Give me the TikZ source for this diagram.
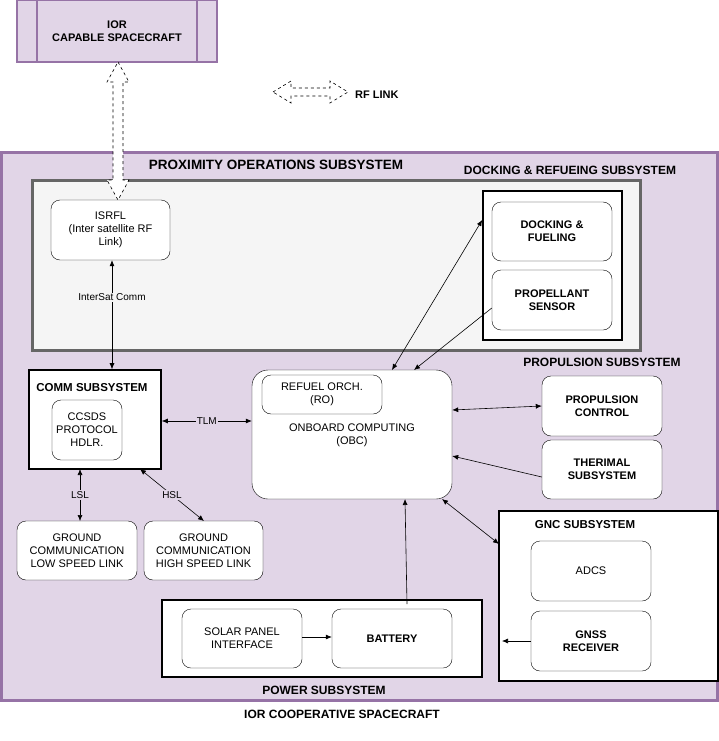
\documentclass[tikz,border=0pt]{standalone}
\usepackage{fontspec}
\setmainfont{Liberation Sans}
\usetikzlibrary{arrows.meta}
\definecolor{lp}{HTML}{E1D5E7}
\definecolor{dp}{HTML}{9673A6}
\tikzset{
 rb/.style={draw=black,fill=white,rounded corners=9pt,align=center,font=\fontsize{11}{13}\selectfont,inner sep=0pt},
 bb/.style={draw=black,line width=1.6pt,fill=white,inner sep=0pt},
 tb/.style={font=\bfseries\fontsize{12}{14}\selectfont,inner sep=0pt},
 ar/.style={-{Latex[length=6pt,width=5pt]},line width=0.6pt},
 dar/.style={{Latex[length=6pt,width=5pt]}-{Latex[length=6pt,width=5pt]},line width=0.6pt},
 lb/.style={fill=lp,font=\fontsize{10}{12}\selectfont,inner sep=1pt},
}
\begin{document}
\begin{tikzpicture}[x=1pt,y=-1pt]
\useasboundingbox (0,0) rectangle (719,741);
% IOR capable
\node[draw=dp,fill=lp,line width=1.5pt,minimum width=200pt,minimum height=62pt,inner sep=0pt,align=center,font=\bfseries\fontsize{11}{13}\selectfont] (ior) at (117,31) {IOR\\CAPABLE SPACECRAFT};
\draw[dp,line width=1.5pt] (37,0)--(37,62) (197,0)--(197,62);
% outer
\node[draw=dp,fill=lp,line width=3pt,minimum width=716pt,minimum height=548pt,inner sep=0pt] (outer) at (359,426) {};
\node[tb,font=\bfseries\fontsize{13.5}{15}\selectfont] (pos) at (276,165) {PROXIMITY OPERATIONS SUBSYSTEM};
\node[tb] (drs) at (570,170) {DOCKING \& REFUEING SUBSYSTEM};
\node[draw=black!60,fill=black!4,line width=3pt,minimum width=608pt,minimum height=170pt,inner sep=0pt] (gray) at (336.5,265.5) {};
\node[bb,minimum width=139pt,minimum height=149pt] (dock) at (552.5,265.5) {};
\node[rb,minimum width=120pt,minimum height=59pt,font=\bfseries\fontsize{11}{13}\selectfont] (dfu) at (552,231.5) {DOCKING \&\\FUELING};
\node[rb,minimum width=120pt,minimum height=60pt,font=\bfseries\fontsize{11}{13}\selectfont] (prop) at (552,300) {PROPELLANT\\SENSOR};
\node[rb,minimum width=119pt,minimum height=60pt] (isr) at (110.5,230) {ISRFL\\(Inter satellite RF\\Link)};
% dashed block arrows
\draw[dashed,fill=white,line width=0.6pt] (118,62)--(129,82)--(123,82)--(123,180)--(129,180)--(118,200)--(107,180)--(113,180)--(113,82)--(107,82)--cycle;
\draw[dashed,fill=white,line width=0.6pt] (273,92)--(291,81)--(291,88)--(330,88)--(330,81)--(348,92)--(330,103)--(330,96)--(291,96)--(291,103)--cycle;
\node[tb,anchor=west,font=\bfseries\fontsize{11}{13}\selectfont] (rf) at (355,95) {RF LINK};
% comm
\node[bb,minimum width=132pt,minimum height=99pt] (comm) at (95,419.5) {};
\node[tb,font=\bfseries\fontsize{11.5}{13}\selectfont] (commt) at (92,388) {COMM SUBSYSTEM};
\node[rb,minimum width=70pt,minimum height=60pt] (ccsds) at (87,430) {CCSDS\\PROTOCOL\\HDLR.};
\draw[dar] (isr.south -| 112,0) -- (comm.north -| 112,0) node[lb,fill=black!4,pos=0.34] (isc) {InterSat Comm};
% OBC
\node[rb,minimum width=200pt,minimum height=129pt,rounded corners=16pt] (obc) at (352,434.5) {};
\node[rb,minimum width=120pt,minimum height=39pt] (ro) at (322,394.5) {REFUEL ORCH.\\(RO)};
\node[align=center,font=\fontsize{11}{13}\selectfont,inner sep=0pt] (obct) at (352,435) {ONBOARD COMPUTING\\(OBC)};
\draw[dar] (comm.east |- 0,421) -- (obc.west |- 0,421) node[lb,midway] (tlm) {TLM};
% propulsion
\node[tb] (pst) at (602,362) {PROPULSION SUBSYSTEM};
\node[rb,minimum width=120pt,minimum height=60pt,font=\bfseries\fontsize{11}{13}\selectfont] (pc) at (602,406) {PROPULSION\\CONTROL};
\node[rb,minimum width=120pt,minimum height=59pt,font=\bfseries\fontsize{11}{13}\selectfont] (th) at (602,469.5) {THERIMAL\\SUBSYSTEM};
\draw[dar] (obc.east |- 0,410) -- (pc.west |- 0,406);
\draw[ar] (th.west |- 0,477) -- (obc.east |- 0,456);
\draw[dar] (392,370) -- (dock.west |- 0,220);
\draw[ar] (prop.west |- 0,308) -- (414,370);
% ground
\node[rb,minimum width=120pt,minimum height=59pt] (gl) at (77,550.5) {GROUND\\COMMUNICATION\\LOW SPEED LINK};
\node[rb,minimum width=119pt,minimum height=59pt] (gh) at (203.5,550.5) {GROUND\\COMMUNICATION\\HIGH SPEED LINK};
\draw[dar] (80,469) -- (80,521) node[lb,midway] (lsl) {LSL};
\draw[dar] (140,469) -- (204,521) node[lb,midway] (hsl) {HSL};
% GNC
\node[bb,minimum width=219pt,minimum height=170pt] (gnc) at (608.5,596) {};
\node[tb,font=\bfseries\fontsize{11.5}{13}\selectfont] (gnct) at (585,525) {GNC SUBSYSTEM};
\node[rb,minimum width=120pt,minimum height=60pt] (adcs) at (591,571) {ADCS};
\node[rb,minimum width=120pt,minimum height=60pt,font=\bfseries\fontsize{11}{13}\selectfont] (gnss) at (591,641) {GNSS\\RECEIVER};
\coordinate (gin) at (502,641);
\draw[ar] (gnss.west) -- (gin);
\draw[dar] (442,499) -- (499,544);
% power
\node[bb,minimum width=320pt,minimum height=77pt] (pow) at (322,638.5) {};
\node[tb] (powt) at (324,690) {POWER SUBSYSTEM};
\node[rb,minimum width=120pt,minimum height=59pt] (sp) at (242,638.5) {SOLAR PANEL\\INTERFACE};
\node[rb,minimum width=120pt,minimum height=59pt,font=\bfseries\fontsize{11}{13}\selectfont] (bat) at (392,638.5) {BATTERY};
\draw[ar] (sp.east |- 0,637) -- (bat.west |- 0,637);
\draw[ar] (407,604) -- (405,499);
\node[tb,font=\bfseries\fontsize{12}{14}\selectfont] (coop) at (342,714) {IOR COOPERATIVE SPACECRAFT};
\end{tikzpicture}
\end{document}
